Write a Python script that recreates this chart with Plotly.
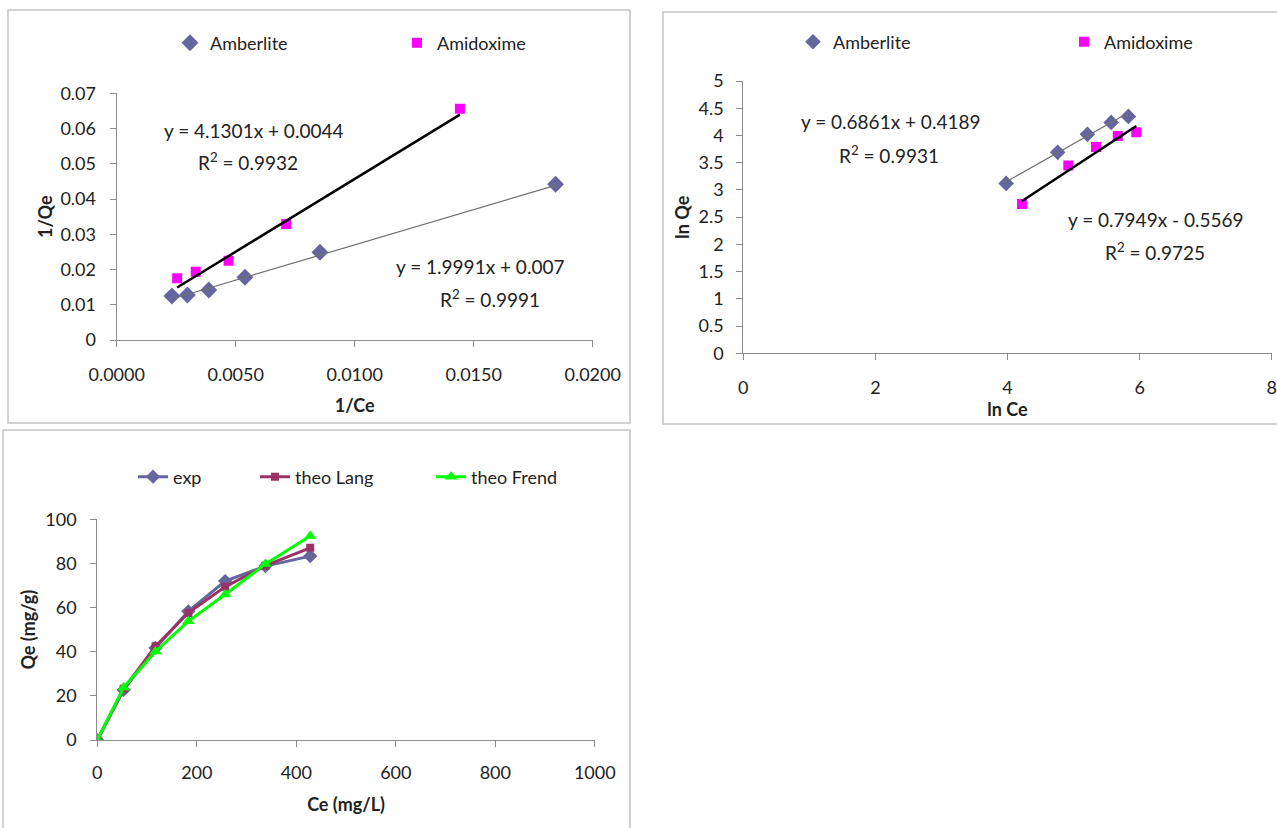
import plotly.graph_objects as go

W, H = 1277, 828

# ---------- Panel 1: Langmuir linear form (1/Ce vs 1/Qe) ----------
inv_ce_amberlite = [0.00232, 0.00297, 0.00387, 0.00539, 0.00854, 0.01844]
inv_qe_amberlite = [0.01249, 0.01277, 0.01419, 0.01779, 0.02488, 0.04418]
inv_ce_amidoxime = [0.00254, 0.00332, 0.00470, 0.00712, 0.01442]
inv_qe_amidoxime = [0.0175, 0.0194, 0.0225, 0.0329, 0.0656]
lang_fit_amberlite = [1.9991, 0.007]     # slope, intercept
lang_fit_amidoxime = [4.1301, 0.0044]
lang_eq_texts = ["y = 4.1301x + 0.0044", "R<sup>2</sup> = 0.9932",
                 "y = 1.9991x + 0.007", "R<sup>2</sup> = 0.9991"]

# ---------- Panel 2: Freundlich linear form (ln Ce vs ln Qe) ----------
ln_ce_amberlite = [3.98, 4.76, 5.21, 5.57, 5.83]
ln_qe_amberlite = [3.12, 3.69, 4.02, 4.24, 4.35]
ln_ce_amidoxime = [4.22, 4.92, 5.34, 5.67, 5.95]
ln_qe_amidoxime = [2.74, 3.45, 3.79, 3.99, 4.06]
frend_fit_amberlite = [0.6861, 0.4189]
frend_fit_amidoxime = [0.7949, -0.5569]
frend_eq_texts = ["y = 0.6861x + 0.4189", "R<sup>2</sup> = 0.9931",
                  "y = 0.7949x - 0.5569", "R<sup>2</sup> = 0.9725"]

# ---------- Panel 3: isotherm Qe vs Ce ----------
ce_values = [0, 53, 117, 183, 257, 338, 428]
qe_exp = [0, 22.7, 41.7, 58.3, 72.0, 78.8, 83.3]
qe_theo_lang = [0, 23.2, 42.5, 57.6, 69.4, 79.0, 87.1]
qe_theo_frend = [0, 23.8, 40.1, 53.8, 65.9, 79.8, 92.4]

C_AMB = "#66669e"
C_AMI = "#ff00ff"
C_LANG = "#993366"
C_FREND = "#00ff00"
FONT = "Lato"
TXT = "#222222"
AXC = "#8c8c8c"


def px_x(p):
    return p / W


def px_y(p):
    return 1 - p / H


def fit_line(xs, fit):
    lo, hi = min(xs), max(xs)
    return [lo, hi], [fit[0] * lo + fit[1], fit[0] * hi + fit[1]]


fig = go.Figure()

# Panel 1
fig.add_trace(go.Scatter(x=inv_ce_amberlite, y=inv_qe_amberlite, mode="markers", name="Amberlite",
                         marker=dict(symbol="diamond", size=13, color=C_AMB, line=dict(width=0)),
                         xaxis="x", yaxis="y", legend="legend"))
fig.add_trace(go.Scatter(x=inv_ce_amidoxime, y=inv_qe_amidoxime, mode="markers", name="Amidoxime",
                         marker=dict(symbol="square", size=10, color=C_AMI, line=dict(width=0)),
                         xaxis="x", yaxis="y", legend="legend"))
lx, ly = fit_line(inv_ce_amberlite, lang_fit_amberlite)
fig.add_trace(go.Scatter(x=lx, y=ly, mode="lines", line=dict(color="#707070", width=1.2),
                         showlegend=False, xaxis="x", yaxis="y", hoverinfo="skip"))
lx, ly = fit_line(inv_ce_amidoxime, lang_fit_amidoxime)
fig.add_trace(go.Scatter(x=lx, y=ly, mode="lines", line=dict(color="#000000", width=2.5),
                         showlegend=False, xaxis="x", yaxis="y", hoverinfo="skip"))

# Panel 2
fig.add_trace(go.Scatter(x=ln_ce_amberlite, y=ln_qe_amberlite, mode="markers", name="Amberlite",
                         marker=dict(symbol="diamond", size=12, color=C_AMB, line=dict(width=0)),
                         xaxis="x2", yaxis="y2", legend="legend2"))
fig.add_trace(go.Scatter(x=ln_ce_amidoxime, y=ln_qe_amidoxime, mode="markers", name="Amidoxime",
                         marker=dict(symbol="square", size=10, color=C_AMI, line=dict(width=0)),
                         xaxis="x2", yaxis="y2", legend="legend2"))
lx, ly = fit_line(ln_ce_amberlite, frend_fit_amberlite)
fig.add_trace(go.Scatter(x=lx, y=ly, mode="lines", line=dict(color="#707070", width=1.2),
                         showlegend=False, xaxis="x2", yaxis="y2", hoverinfo="skip"))
lx, ly = fit_line(ln_ce_amidoxime, frend_fit_amidoxime)
fig.add_trace(go.Scatter(x=lx, y=ly, mode="lines", line=dict(color="#000000", width=2.5),
                         showlegend=False, xaxis="x2", yaxis="y2", hoverinfo="skip"))

# Panel 3
fig.add_trace(go.Scatter(x=ce_values, y=qe_exp, mode="lines+markers", name="exp",
                         line=dict(color=C_AMB, width=3),
                         marker=dict(symbol="diamond", size=11, color=C_AMB, line=dict(width=0)),
                         xaxis="x3", yaxis="y3", legend="legend3"))
fig.add_trace(go.Scatter(x=ce_values, y=qe_theo_lang, mode="lines+markers", name="theo Lang",
                         line=dict(color=C_LANG, width=3),
                         marker=dict(symbol="square", size=8, color=C_LANG, line=dict(width=0)),
                         xaxis="x3", yaxis="y3", legend="legend4"))
fig.add_trace(go.Scatter(x=ce_values, y=qe_theo_frend, mode="lines+markers", name="theo Frend",
                         line=dict(color=C_FREND, width=3),
                         marker=dict(symbol="triangle-up", size=11, color=C_FREND, line=dict(width=0)),
                         xaxis="x3", yaxis="y3", legend="legend5"))

tickfont = dict(family=FONT, size=18, color=TXT)
titlefont = dict(family=FONT, size=18, color=TXT, weight="bold")


def axis(domain, rng, anchor, dtick, title, standoff, labelgap, fmt=None, vals=None):
    d = dict(domain=domain, range=rng, anchor=anchor, showgrid=False, zeroline=False,
             showline=True, linecolor=AXC, linewidth=1.2, ticks="outside", ticklen=6,
             tickcolor=AXC, tickwidth=1.2, tickfont=tickfont, ticklabelstandoff=labelgap,
             automargin=False,
             title=dict(text=title, font=titlefont, standoff=standoff), fixedrange=True)
    if vals is not None:
        d["tickmode"] = "array"
        d["tickvals"] = vals
    else:
        d["tick0"] = 0
        d["dtick"] = dtick
    if fmt:
        d["tickformat"] = fmt
    return d


x1_ticks = [0, 0.005, 0.01, 0.015, 0.02]

layout = dict(
    width=W, height=H, margin=dict(l=0, r=0, t=0, b=0, autoexpand=False),
    paper_bgcolor="white", plot_bgcolor="white", font=dict(family=FONT, color=TXT),
    xaxis=axis([px_x(116.7), px_x(592.7)], [0, 0.02], "y", 0.005, "1/Ce", 15, 12, ".4f", x1_ticks),
    yaxis=axis([px_y(340), px_y(93.3)], [0, 0.07], "x", 0.01, "1/Qe", 3, 10),
    xaxis2=axis([px_x(743.3), px_x(1271.7)], [0, 8], "y2", 2, "ln Ce", 2, 12),
    yaxis2=axis([px_y(353.3), px_y(81)], [0, 5], "x2", 0.5, "ln Qe", 4, 9),
    xaxis3=axis([px_x(97.3), px_x(594.8)], [0, 1000], "y3", 200, "Ce (mg/L)", 16, 10),
    yaxis3=axis([px_y(740), px_y(519.3)], [0, 100], "x3", 20, "Qe (mg/g)", 4, 10),
    showlegend=True,
)

leg_common = dict(orientation="h", xanchor="left", yanchor="middle", bgcolor="rgba(0,0,0,0)",
                  font=dict(family=FONT, size=18, color=TXT), itemclick=False, itemdoubleclick=False)
layout["legend"] = dict(leg_common, x=px_x(192 - 22), y=px_y(43), entrywidth=182, entrywidthmode="pixels")
layout["legend2"] = dict(leg_common, x=px_x(815 - 22), y=px_y(42), entrywidth=226, entrywidthmode="pixels")
layout["legend3"] = dict(leg_common, x=px_x(155 - 22), y=px_y(477))
layout["legend4"] = dict(leg_common, x=px_x(277 - 22), y=px_y(477))
layout["legend5"] = dict(leg_common, x=px_x(453 - 22), y=px_y(477))

fig.update_layout(**layout)

# Panel frames
frame = dict(type="rect", xref="paper", yref="paper", line=dict(color="#c4c4c4", width=1.5),
             fillcolor="rgba(0,0,0,0)", layer="below")
fig.add_shape(frame, x0=px_x(8), x1=px_x(630), y0=px_y(423), y1=px_y(10))
fig.add_shape(frame, x0=px_x(663), x1=px_x(1290), y0=px_y(424), y1=px_y(12))
fig.add_shape(frame, x0=px_x(3), x1=px_x(630), y0=px_y(840), y1=px_y(430))

# Trendline equations
eq_font = dict(family=FONT, size=19, color=TXT)
eq_pos = [(253, 130), (248, 162), (480, 266), (490, 298)]
for t, (ex, ey) in zip(lang_eq_texts, eq_pos):
    fig.add_annotation(text=t, x=px_x(ex), y=px_y(ey), xref="paper", yref="paper",
                       showarrow=False, font=eq_font, xanchor="center", yanchor="middle")
eq_pos2 = [(890, 122), (889, 155), (1156, 219), (1155, 251)]
for t, (ex, ey) in zip(frend_eq_texts, eq_pos2):
    fig.add_annotation(text=t, x=px_x(ex), y=px_y(ey), xref="paper", yref="paper",
                       showarrow=False, font=eq_font, xanchor="center", yanchor="middle")

fig.write_html("out.html", config={"displayModeBar": False},
               post_script="document.body.style.margin='0';document.body.style.overflow='hidden';")
